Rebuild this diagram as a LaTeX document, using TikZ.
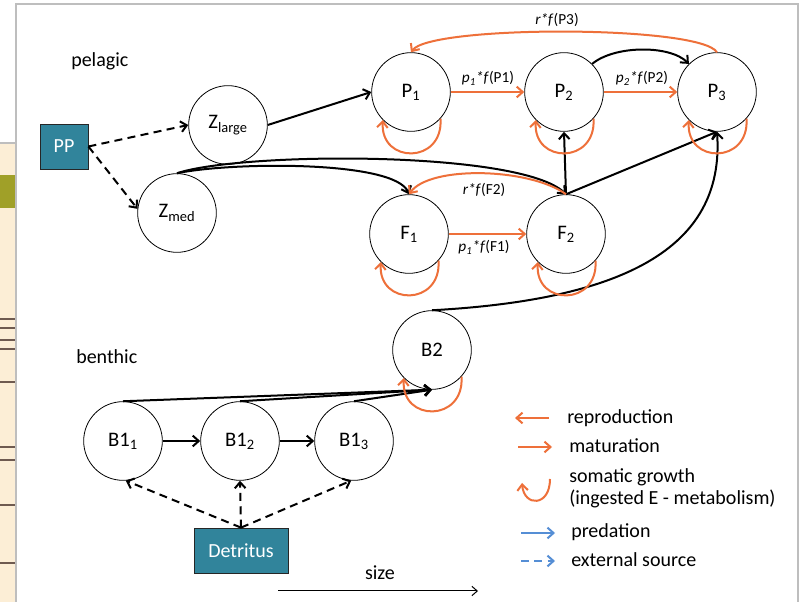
\documentclass[tikz,border=0pt]{standalone}
\usepackage{fontspec}
\setmainfont{Carlito}
\usetikzlibrary{arrows.meta}

\definecolor{growthorange}{RGB}{238,112,58}
\definecolor{predblue}{RGB}{85,142,213}
\definecolor{boxteal}{RGB}{49,132,155}
\definecolor{framegray}{RGB}{190,190,190}
\definecolor{stripbeige}{RGB}{252,238,214}
\definecolor{stripolive}{RGB}{160,160,40}
\definecolor{stripline}{RGB}{110,90,80}

\begin{document}
\begin{tikzpicture}[x=0.75pt,y=-0.75pt,
  font=\fontsize{15}{18}\selectfont,
  stage/.style={circle,draw,line width=0.6pt,minimum size=59pt,inner sep=0pt,font=\fontsize{15.5}{18}\selectfont},
  source/.style={rectangle,draw=black!85,line width=0.6pt,fill=boxteal,text=white,inner sep=0pt},
  tip/.style={-{Straight Barb[length=4.5pt,width=8pt]}},
  pred/.style={tip,line width=1.5pt},
  ext/.style={pred,dash pattern=on 6pt off 4pt},
  flow/.style={tip,line width=1.5pt,draw=growthorange},
  rate/.style={font=\fontsize{11.5}{13}\selectfont,anchor=base,inner sep=0pt},
  legtext/.style={anchor=base west,inner sep=0pt},
  zone/.style={anchor=base west,inner sep=0pt},
]
\useasboundingbox (0,0) rectangle (801,602);
\fill[white] (0,0) rectangle (801,602);

% page strip behind the panel
\fill[stripbeige] (0,143) rectangle (16,602);
\draw[framegray,line width=1pt] (0,143) -- (16,143);
\fill[stripolive] (0,175) rectangle (16,208);
\foreach \yy in {319,328,340,349,382,447,460,505,563}
  \draw[stripline,line width=1pt] (0,\yy) -- (16,\yy);

% panel frame
\draw[framegray,line width=1.5pt] (16,602) -- (16,4) -- (798,4) -- (798,602);

% zone labels
\node[zone] (pel) at (71,67) {pelagic};
\node[zone] (ben) at (76,364) {benthic};

% sources
\node[source,minimum width=36pt,minimum height=33.75pt] (PP) at (64,146.5) {PP};
\node[source,minimum width=70.5pt,minimum height=33.75pt] (Det) at (241,550.5) {Detritus};

% size classes
\node[stage] (Zl) at (228,125) {Z\textsubscript{large}};
\node[stage] (Zm) at (177,213) {Z\textsubscript{med}};
\node[stage] (P1) at (411,92) {P\textsubscript{1}};
\node[stage] (P2) at (564,92) {P\textsubscript{2}};
\node[stage] (P3) at (717,92) {P\textsubscript{3}};
\node[stage] (F1) at (409,234) {F\textsubscript{1}};
\node[stage] (F2) at (566,234) {F\textsubscript{2}};
\node[stage] (B2) at (432,350) {B2};
\node[stage] (B11) at (123,441) {B1\textsubscript{1}};
\node[stage] (B12) at (240,441) {B1\textsubscript{2}};
\node[stage] (B13) at (354,441) {B1\textsubscript{3}};

% external sources
\draw[ext] (PP.east) -- (Zl.west);
\draw[ext] (PP.east) -- (Zm.174);
\draw[ext] (Det.north) -- (B11.-86);
\draw[ext] (Det.north) -- (B12.south);
\draw[ext] (Det.north) -- (B13.-94);

% predation
\draw[pred] (Zl.east) -- (P1.west);
\draw[pred] (Zm.north) .. controls (240,152) and (520,150) .. (F2.north);
\draw[pred] (Zm.north) .. controls (230,162) and (395,160) .. (F1.north);
\draw[pred] (F2.north) -- (P2.south);
\draw[pred] (F2.north) -- (P3.south);
\draw[pred] (P2.45) .. controls (615,45) and (670,45) .. (P3.135);
\draw[pred] (B2.north) .. controls (620,300) and (725,250) .. (P3.south);
\draw[pred] (B11.north) -- (B2.south);
\draw[pred] (B12.north) -- (B2.south);
\draw[pred] (B13.north) -- (B2.south);
\draw[pred] (B11.east) -- (B12.west);
\draw[pred] (B12.east) -- (B13.west);

% maturation and reproduction
\draw[flow] (P1.east) -- (P2.west);
\draw[flow] (P2.east) -- (P3.west);
\draw[flow] (F1.east) -- (F2.west);
\draw[flow] (P3.north) .. controls (700,25) and (430,25) .. (P1.north);
\draw[flow] (F2.north) .. controls (530,168) and (430,165) .. (F1.north);

\node[rate] (lp1) at (488,83) {\textit{p\textsubscript{1}*f}(P1)};
\node[rate] (lp2) at (642,83) {\textit{p\textsubscript{2}*f}(P2)};
\node[rate] (lr3) at (557,25) {\textit{r*f}(P3)};
\node[rate] (lf2) at (484,195) {\textit{r*f}(F2)};
\node[rate] (lf1) at (484,252) {\textit{p\textsubscript{1}*f}(F1)};

% somatic growth loops
\foreach \n in {P1,P2,P3,F1,F2,B2}
  \draw[flow] (\n.-42) .. controls +(3,46) and +(-3,44) .. (\n.-135);

% size axis
\coordinate (s0) at (278,591);
\coordinate (s1) at (478,591);
\draw[-{Straight Barb[length=4pt,width=7pt]},line width=0.75pt] (s0) -- (s1);
\node[anchor=base,inner sep=0pt] (sz) at (380,580) {size};

% legend
\coordinate (r0) at (549,418); \coordinate (r1) at (515,418);
\coordinate (m0) at (518,447); \coordinate (m1) at (552,447);
\coordinate (g0) at (550,479); \coordinate (g1) at (522,483);
\coordinate (d0) at (521,533); \coordinate (d1) at (555,533);
\coordinate (e0) at (521,561); \coordinate (e1) at (555,561);
\draw[flow] (r0) -- (r1);
\draw[flow] (m0) -- (m1);
\draw[flow] (g0) .. controls (550,507) and (524,507) .. (g1);
\draw[pred,draw=predblue] (d0) -- (d1);
\draw[ext,draw=predblue] (e0) -- (e1);
\node[legtext] (t1) at (567,424) {reproduction};
\node[legtext] (t2) at (569,453) {maturation};
\node[legtext] (t3) at (569,483) {somatic growth};
\node[legtext] (t4) at (569,505) {(ingested E - metabolism)};
\node[legtext] (t5) at (571,538) {predation};
\node[legtext] (t6) at (571,567) {external source};
\end{tikzpicture}
\end{document}
